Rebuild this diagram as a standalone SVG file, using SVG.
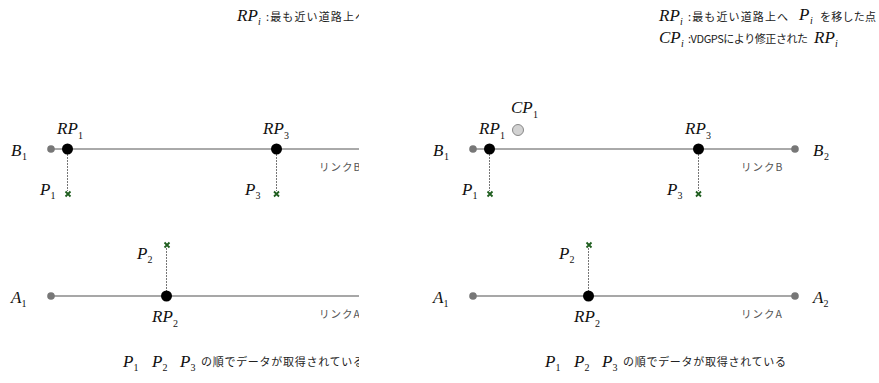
<svg xmlns="http://www.w3.org/2000/svg" width="879" height="383" viewBox="0 0 879 383">
<style>
.lbl{font-family:"Liberation Serif","Times New Roman",serif;font-style:italic;font-size:17px;fill:#111}
.sub{font-family:"Liberation Serif","Times New Roman",serif;font-size:10px;fill:#111}
.subi{font-family:"Liberation Serif","Times New Roman",serif;font-style:italic;font-size:10px;fill:#111}
.jp{font-family:"Noto Sans CJK JP","Noto Sans",sans-serif;font-size:11px;fill:#222}
.link{font-family:"Noto Sans CJK JP","Noto Sans",sans-serif;font-size:10.5px;fill:#555}
.end{fill:#777}
.rp{fill:#000}
.cp{fill:#d2d2d2;stroke:#888;stroke-width:1}
.roadB{stroke:#555;stroke-width:1;fill:none}
.roadA{stroke:#8a8a8a;stroke-width:1.5;fill:none}
.proj{stroke:#777;stroke-width:1;stroke-dasharray:2 1;fill:none}
.gps{stroke:#1f5e1f;stroke-width:1.8;fill:none}
</style>
<defs>
<clipPath id="clipL"><rect x="0" y="0" width="359" height="383"/></clipPath>
<g id="xmark"><path d="M-2.5,-2.5L2.5,2.5M2.5,-2.5L-2.5,2.5" class="gps"/></g>
</defs>

<!-- LEFT PANEL (clipped) -->
<g id="panel-left" clip-path="url(#clipL)">
  <g id="L-legend">
    <text class="lbl" x="237" y="21">RP</text><text class="subi" x="258" y="25">i</text>
    <text class="jp" x="266" y="21" textLength="100" lengthAdjust="spacing">:最も近い道路上へ</text>
  </g>
  <g id="L-connectors">
    <line class="roadB" x1="51" y1="149" x2="370" y2="149"/>
    <line class="roadA" x1="51" y1="296" x2="370" y2="296"/>
    <line class="proj" x1="67.5" y1="154" x2="67.5" y2="191"/>
    <line class="proj" x1="276.5" y1="154" x2="276.5" y2="191"/>
    <line class="proj" x1="166.5" y1="248" x2="166.5" y2="291"/>
  </g>
  <g id="L-B1"><circle class="end" cx="51" cy="149" r="3.8"/><text class="lbl" x="11" y="156">B</text><text class="sub" x="22" y="160">1</text></g>
  <g id="L-RP1"><circle class="rp" cx="67.5" cy="149" r="5.5"/><text class="lbl" x="57" y="134">RP</text><text class="sub" x="78" y="139">1</text></g>
  <g id="L-P1"><use href="#xmark" x="68" y="194"/><text class="lbl" x="40" y="195">P</text><text class="sub" x="50.5" y="199">1</text></g>
  <g id="L-RP3"><circle class="rp" cx="276.5" cy="149" r="5.5"/><text class="lbl" x="263" y="134">RP</text><text class="sub" x="284" y="139">3</text></g>
  <g id="L-P3"><use href="#xmark" x="276.5" y="194"/><text class="lbl" x="245" y="195">P</text><text class="sub" x="255.5" y="199">3</text></g>
  <text id="L-linkB" class="link" x="319" y="171" letter-spacing="1">リンクB</text>
  <g id="L-A1"><circle class="end" cx="51" cy="296" r="3.8"/><text class="lbl" x="11" y="303">A</text><text class="sub" x="21.5" y="307">1</text></g>
  <g id="L-RP2"><circle class="rp" cx="166.5" cy="296" r="5.5"/><text class="lbl" x="152" y="322">RP</text><text class="sub" x="173" y="327">2</text></g>
  <g id="L-P2"><use href="#xmark" x="167" y="245"/><text class="lbl" x="137" y="259">P</text><text class="sub" x="147.5" y="263">2</text></g>
  <text id="L-linkA" class="link" x="319" y="318" letter-spacing="1">リンクA</text>
  <g id="L-note">
    <text class="lbl" x="123" y="367">P</text><text class="sub" x="133.5" y="371">1</text>
    <text class="lbl" x="152" y="367">P</text><text class="sub" x="162.5" y="371">2</text>
    <text class="lbl" x="180" y="367">P</text><text class="sub" x="190.5" y="371">3</text>
    <text class="jp" x="201" y="366" font-size="11.5" textLength="163" lengthAdjust="spacing">の順でデータが取得されている</text>
  </g>
</g>

<!-- RIGHT PANEL -->
<g id="panel-right">
  <g id="R-legend">
    <text class="lbl" x="659" y="21">RP</text><text class="subi" x="680" y="25">i</text>
    <text class="jp" x="688" y="21" textLength="100" lengthAdjust="spacing">:最も近い道路上へ</text>
    <text class="lbl" x="799" y="20">P</text><text class="subi" x="810" y="24">i</text>
    <text class="jp" x="820" y="21" textLength="56" lengthAdjust="spacing">を移した点</text>
    <text class="lbl" x="659" y="43">CP</text><text class="subi" x="681" y="47">i</text>
    <text class="jp" x="688" y="43" textLength="120" lengthAdjust="spacing">:VDGPSにより修正された</text>
    <text class="lbl" x="814" y="43">RP</text><text class="subi" x="835" y="47">i</text>
  </g>
  <g id="R-connectors">
    <line class="roadB" x1="473" y1="149" x2="795" y2="149"/>
    <line class="roadA" x1="473" y1="296" x2="795" y2="296"/>
    <line class="proj" x1="489.5" y1="154" x2="489.5" y2="191"/>
    <line class="proj" x1="698.5" y1="154" x2="698.5" y2="191"/>
    <line class="proj" x1="588.5" y1="248" x2="588.5" y2="291"/>
  </g>
  <g id="R-B1"><circle class="end" cx="473" cy="149" r="3.8"/><text class="lbl" x="433" y="156">B</text><text class="sub" x="444" y="160">1</text></g>
  <g id="R-B2"><circle class="end" cx="795" cy="149" r="3.8"/><text class="lbl" x="813" y="156">B</text><text class="sub" x="824" y="160">2</text></g>
  <g id="R-RP1"><circle class="rp" cx="489.5" cy="149" r="5.5"/><text class="lbl" x="479" y="134">RP</text><text class="sub" x="500" y="139">1</text></g>
  <g id="R-CP1"><circle class="cp" cx="518" cy="130" r="5.5"/><text class="lbl" x="511" y="113">CP</text><text class="sub" x="533" y="118">1</text></g>
  <g id="R-P1"><use href="#xmark" x="490" y="194"/><text class="lbl" x="462" y="195">P</text><text class="sub" x="472.5" y="199">1</text></g>
  <g id="R-RP3"><circle class="rp" cx="698.5" cy="149" r="5.5"/><text class="lbl" x="685" y="134">RP</text><text class="sub" x="706" y="139">3</text></g>
  <g id="R-P3"><use href="#xmark" x="698.5" y="194"/><text class="lbl" x="667" y="195">P</text><text class="sub" x="677.5" y="199">3</text></g>
  <text id="R-linkB" class="link" x="741" y="171" letter-spacing="1">リンクB</text>
  <g id="R-A1"><circle class="end" cx="473" cy="296" r="3.8"/><text class="lbl" x="433" y="303">A</text><text class="sub" x="443.5" y="307">1</text></g>
  <g id="R-A2"><circle class="end" cx="795" cy="296" r="3.8"/><text class="lbl" x="813" y="303">A</text><text class="sub" x="823.5" y="307">2</text></g>
  <g id="R-RP2"><circle class="rp" cx="588.5" cy="296" r="5.5"/><text class="lbl" x="574" y="322">RP</text><text class="sub" x="595" y="327">2</text></g>
  <g id="R-P2"><use href="#xmark" x="589" y="245"/><text class="lbl" x="559" y="259">P</text><text class="sub" x="569.5" y="263">2</text></g>
  <text id="R-linkA" class="link" x="741" y="318" letter-spacing="1">リンクA</text>
  <g id="R-note">
    <text class="lbl" x="545" y="367">P</text><text class="sub" x="555.5" y="371">1</text>
    <text class="lbl" x="574" y="367">P</text><text class="sub" x="584.5" y="371">2</text>
    <text class="lbl" x="602" y="367">P</text><text class="sub" x="612.5" y="371">3</text>
    <text class="jp" x="623" y="366" font-size="11.5" textLength="163" lengthAdjust="spacing">の順でデータが取得されている</text>
  </g>
</g>
</svg>
